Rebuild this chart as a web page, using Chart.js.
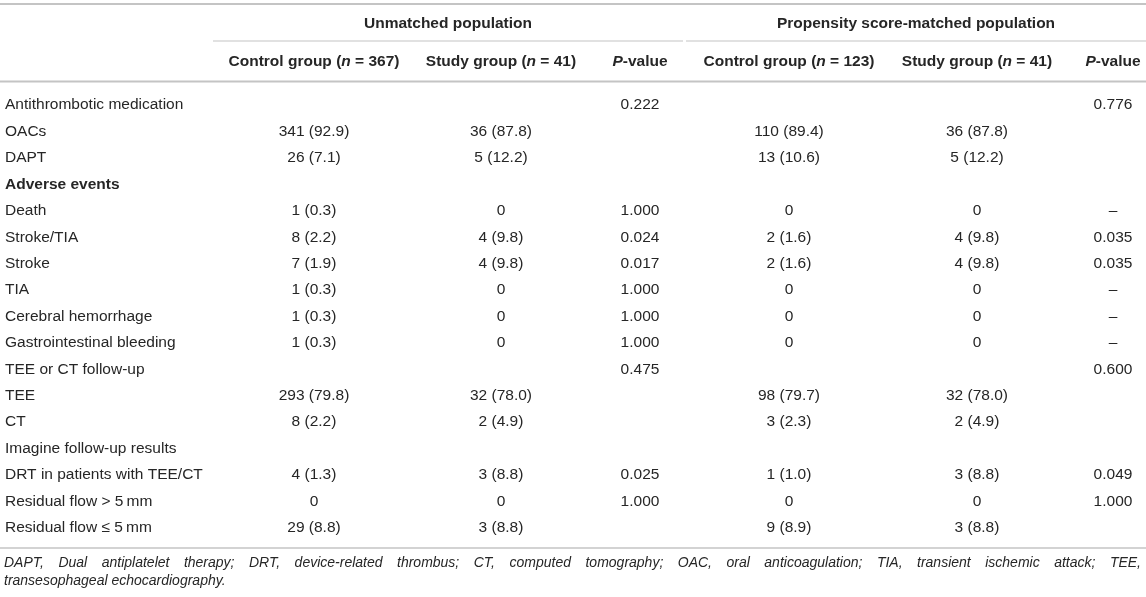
<!DOCTYPE html>
<html><head><meta charset="utf-8">
<script src="https://cdn.jsdelivr.net/npm/chart.js@4.4.1/dist/chart.umd.min.js"></script>
<style>html,body{margin:0;padding:0;background:#fff;}#wrap{width:1146px;height:597px;}</style>
</head><body><div id="wrap"><canvas id="c" width="1146" height="597"></canvas></div>
<script>
// ---- data ----
const groupHeaders = ['Unmatched population', 'Propensity score-matched population'];
const columnHeaders = ['', 'Control group (*n* = 367)', 'Study group (*n* = 41)', '*P*-value',
  'Control group (*n* = 123)', 'Study group (*n* = 41)', '*P*-value'];
const rowLabels = ['Antithrombotic medication', 'OACs', 'DAPT', 'Adverse events', 'Death', 'Stroke/TIA',
  'Stroke', 'TIA', 'Cerebral hemorrhage', 'Gastrointestinal bleeding', 'TEE or CT follow-up', 'TEE', 'CT',
  'Imagine follow-up results', 'DRT in patients with TEE/CT', 'Residual flow > 5\u2009mm', 'Residual flow \u2264 5\u2009mm'];
const boldRows = ['Adverse events'];
const controlUnmatched = ['', '341 (92.9)', '26 (7.1)', '', '1 (0.3)', '8 (2.2)', '7 (1.9)', '1 (0.3)', '1 (0.3)', '1 (0.3)', '', '293 (79.8)', '8 (2.2)', '', '4 (1.3)', '0', '29 (8.8)'];
const studyUnmatched = ['', '36 (87.8)', '5 (12.2)', '', '0', '4 (9.8)', '4 (9.8)', '0', '0', '0', '', '32 (78.0)', '2 (4.9)', '', '3 (8.8)', '0', '3 (8.8)'];
const pUnmatched = ['0.222', '', '', '', '1.000', '0.024', '0.017', '1.000', '1.000', '1.000', '0.475', '', '', '', '0.025', '1.000', ''];
const controlMatched = ['', '110 (89.4)', '13 (10.6)', '', '0', '2 (1.6)', '2 (1.6)', '0', '0', '0', '', '98 (79.7)', '3 (2.3)', '', '1 (1.0)', '0', '9 (8.9)'];
const studyMatched = ['', '36 (87.8)', '5 (12.2)', '', '0', '4 (9.8)', '4 (9.8)', '0', '0', '0', '', '32 (78.0)', '2 (4.9)', '', '3 (8.8)', '0', '3 (8.8)'];
const pMatched = ['0.776', '', '', '', '\u2013', '0.035', '0.035', '\u2013', '\u2013', '\u2013', '0.600', '', '', '', '0.049', '1.000', ''];
const footnoteLines = [
  'DAPT, Dual antiplatelet therapy; DRT, device-related thrombus; CT, computed tomography; OAC, oral anticoagulation; TIA, transient ischemic attack; TEE,',
  'transesophageal echocardiography.'
];

// ---- layout (not data) ----
const L = {
  colX: [5, 314, 501, 640, 789, 977, 1113],
  groupSpan: [[213, 683], [686, 1146]],
  font: "'Liberation Sans', Arial, Helvetica, sans-serif",
  size: 15.5,
  footSize: 14,
  color: '#262626',
  rule: '#c4c4c4'
};
const columns = [rowLabels, controlUnmatched, studyUnmatched, pUnmatched, controlMatched, studyMatched, pMatched];

function richParts(s) {
  const parts = []; const segs = s.split('*');
  segs.forEach((t, i) => { if (t) parts.push({ t, i: i % 2 === 1 }); });
  return parts;
}
function drawRich(ctx, s, x, y, bold, align, size) {
  const parts = richParts(s);
  const fontOf = p => (p.i ? 'italic ' : '') + (bold ? 'bold ' : '') + size + 'px ' + L.font;
  let w = 0;
  parts.forEach(p => { ctx.font = fontOf(p); w += ctx.measureText(p.t).width; });
  let cx = align === 'center' ? x - w / 2 : x;
  ctx.textAlign = 'left';
  parts.forEach(p => { ctx.font = fontOf(p); ctx.fillText(p.t, cx, y); cx += ctx.measureText(p.t).width; });
}

const tablePlugin = {
  id: 'tableText',
  afterDatasetsDraw(chart) {
    const ctx = chart.ctx; const xs = chart.scales.x; const area = chart.chartArea;
    ctx.save();
    ctx.fillStyle = L.color; ctx.textBaseline = 'middle';
    // cells
    chart.data.datasets.forEach((ds, di) => {
      const meta = chart.getDatasetMeta(di);
      meta.data.forEach((pt, j) => {
        const txt = ds.cells[j]; if (!txt) return;
        const bold = di === 0 && boldRows.includes(txt);
        ctx.font = (bold ? 'bold ' : '') + L.size + 'px ' + L.font;
        ctx.textAlign = di === 0 ? 'left' : 'center';
        ctx.fillText(txt, pt.x, pt.y);
      });
    });
    // header rows
    groupHeaders.forEach((g, gi) => {
      const span = L.groupSpan[gi];
      const cx = (xs.getPixelForValue(span[0]) + xs.getPixelForValue(span[1])) / 2;
      drawRich(ctx, g, cx, area.top - 68, true, 'center', L.size);
    });
    columnHeaders.forEach((h, ci) => {
      if (!h) return;
      drawRich(ctx, h, xs.getPixelForValue(L.colX[ci]), area.top - 30, true, 'center', L.size);
    });
    // rules
    ctx.strokeStyle = L.rule;
    const hline = (x0, x1, y, w) => { ctx.lineWidth = w; ctx.beginPath(); ctx.moveTo(x0, y); ctx.lineTo(x1, y); ctx.stroke(); };
    hline(0, 1146, 4, 2);
    L.groupSpan.forEach(s => hline(xs.getPixelForValue(s[0]), xs.getPixelForValue(s[1]), area.top - 51, 1.2));
    hline(0, 1146, area.top - 10.5, 2);
    hline(0, 1146, area.bottom + 7, 1.5);
    // footnote
    ctx.font = 'italic ' + L.footSize + 'px ' + L.font; ctx.textBaseline = 'alphabetic';
    const fx0 = 4, fx1 = 1141;
    footnoteLines.forEach((line, li) => {
      const y = area.bottom + 26 + li * 18;
      const words = line.split(' ');
      ctx.textAlign = 'left';
      if (li < footnoteLines.length - 1) {
        const tot = words.reduce((a, w) => a + ctx.measureText(w).width, 0);
        const gap = (fx1 - fx0 - tot) / (words.length - 1);
        let x = fx0;
        words.forEach(w => { ctx.fillText(w, x, y); x += ctx.measureText(w).width + gap; });
      } else {
        ctx.fillText(line, fx0, y);
      }
    });
    ctx.restore();
  }
};

new Chart(document.getElementById('c'), {
  type: 'scatter',
  data: {
    datasets: columns.map((col, ci) => ({
      label: 'col' + ci,
      cells: col,
      data: rowLabels.map((r, j) => ({ x: L.colX[ci], y: r })),
      pointRadius: 0, pointHoverRadius: 0, showLine: false
    }))
  },
  options: {
    responsive: false, animation: false, devicePixelRatio: 1, events: [],
    layout: { padding: { top: 92, bottom: 56, left: 0, right: 0 } },
    plugins: { legend: { display: false }, tooltip: { enabled: false } },
    scales: {
      x: { type: 'linear', min: 0, max: 1146, display: false },
      y: { type: 'category', labels: rowLabels, offset: true, display: false }
    }
  },
  plugins: [tablePlugin]
});
</script></body></html>
